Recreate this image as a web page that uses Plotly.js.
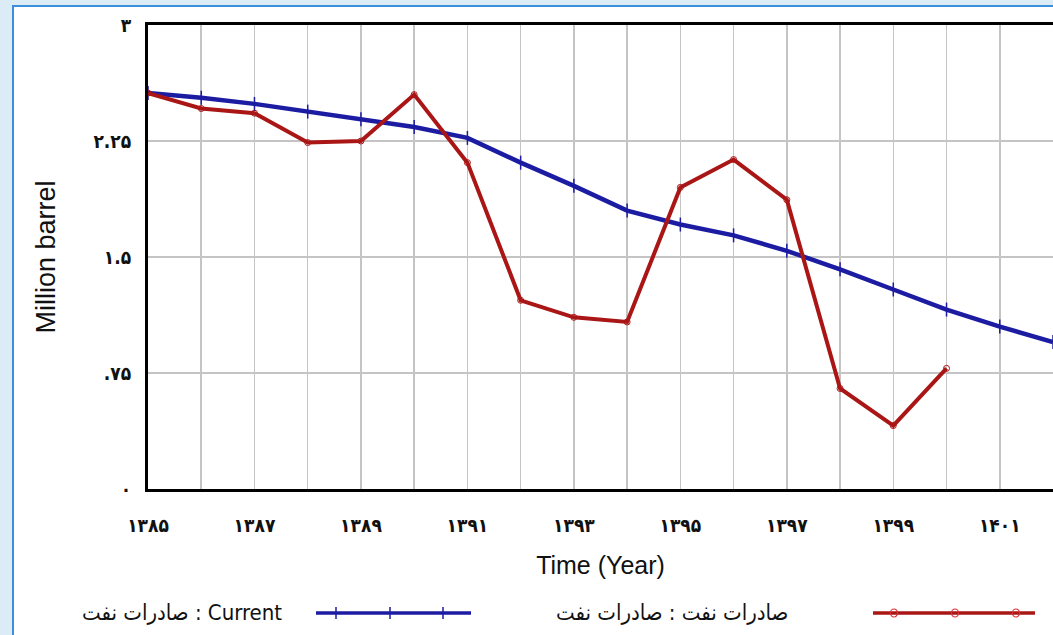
<!DOCTYPE html>
<html>
<head>
<meta charset="utf-8">
<script src="https://cdn.plot.ly/plotly-3.0.1.min.js"></script>
<style>
html,body{margin:0;padding:0;background:#dcecf6;}
#chart{width:1053px;height:635px;}
</style>
</head>
<body>
<div id="chart"></div>
<script>
// ---- data ----
const years = [1385,1386,1387,1388,1389,1390,1391,1392,1393,1394,1395,1396,1397,1398,1399,1400,1401,1402];
const currentValues = [2.56,2.53,2.49,2.44,2.39,2.34,2.27,2.11,1.96,1.80,1.71,1.64,1.54,1.42,1.29,1.16,1.05,0.95];
const exportYears = [1385,1386,1387,1388,1389,1390,1391,1392,1393,1394,1395,1396,1397,1398,1399,1400];
const exportValues = [2.56,2.46,2.43,2.24,2.25,2.55,2.11,1.22,1.11,1.08,1.95,2.13,1.87,0.65,0.41,0.78];
const xTickLabels = ['۱۳۸۵','','۱۳۸۷','','۱۳۸۹','','۱۳۹۱','','۱۳۹۳','','۱۳۹۵','','۱۳۹۷','','۱۳۹۹','','۱۴۰۱',''];
const yTickVals = [0,0.75,1.5,2.25,3];
const yTickLabels = ['۰','.۷۵','۱.۵','۲.۲۵','۳'];
const seriesNames = ['صادرات نفت : Current','صادرات نفت : صادرات نفت'];

const blue = '#1c1ca2';
const red = '#aa1616';

const traces = [
  {
    x: years, y: currentValues, type: 'scatter', mode: 'lines+markers',
    name: seriesNames[0],
    line: {color: blue, width: 4.5},
    marker: {symbol: 'line-ns', size: 10, line: {color: blue, width: 1.5}, color: blue},
    hoverinfo: 'skip'
  },
  {
    x: exportYears, y: exportValues, type: 'scatter', mode: 'lines+markers',
    name: seriesNames[1],
    line: {color: red, width: 4},
    marker: {symbol: 'circle-open', size: 6, line: {color: '#d83030', width: 1}, color: red},
    hoverinfo: 'skip'
  }
];

// paper coordinate helpers for the decorative frame / legend
const L = 148, T = 25, W = 905, H = 464;
const px = v => (v - L) / W;
const py = v => (T + H - v) / H;

const shapes = [
  {type:'rect', xref:'paper', yref:'paper', x0:px(13), x1:px(1060), y0:py(660), y1:py(6),
   fillcolor:'#ffffff', line:{color:'#3b8fdc', width:2}, layer:'below'},
  // legend samples
  {type:'line', xref:'paper', yref:'paper', x0:px(316), x1:px(471), y0:py(613), y1:py(613), line:{color:blue, width:3.5}},
  {type:'line', xref:'paper', yref:'paper', x0:px(873), x1:px(1035), y0:py(613), y1:py(613), line:{color:red, width:3.5}}
];
[336,390,443].forEach(x => shapes.push({type:'line', xref:'paper', yref:'paper', x0:px(x), x1:px(x), y0:py(607), y1:py(619), line:{color:blue, width:1.5}}));
[894,955,1016].forEach(x => shapes.push({type:'circle', xref:'paper', yref:'paper', x0:px(x-3.5), x1:px(x+3.5), y0:py(617), y1:py(609), line:{color:'#d83030', width:1.2}}));

const annotations = [
  {xref:'paper', yref:'paper', x:px(284), y:py(612), xanchor:'right', yanchor:'middle', showarrow:false,
   text: seriesNames[0], font:{family:'DejaVu Sans Condensed, DejaVu Sans', size:22, color:'#111'}},
  {xref:'paper', yref:'paper', x:px(790), y:py(612), xanchor:'right', yanchor:'middle', showarrow:false,
   text: seriesNames[1], font:{family:'DejaVu Sans Condensed, DejaVu Sans', size:22, color:'#111'}}
];

const layout = {
  width: 1053, height: 635,
  margin: {l: L, r: 0, t: T, b: 635 - T - H},
  paper_bgcolor: '#dcecf6',
  plot_bgcolor: '#ffffff',
  showlegend: false,
  xaxis: {
    range: [1385, 1402], tickvals: years, ticktext: xTickLabels,
    showgrid: true, gridcolor: '#c4c4c4', gridwidth: 1.5,
    ticks: 'outside', ticklen: 17, tickcolor: 'rgba(0,0,0,0)',
    showline: true, mirror: true, linecolor: '#000', linewidth: 3,
    zeroline: false, automargin: false,
    tickfont: {family: 'DejaVu Sans Condensed, DejaVu Sans', size: 19, weight: 'bold', color: '#111'},
    title: {text: 'Time (Year)', standoff: 22, font: {family: 'Liberation Sans, Arial', size: 25, color: '#111'}}
  },
  yaxis: {
    range: [0, 3], tickvals: yTickVals, ticktext: yTickLabels,
    showgrid: true, gridcolor: '#c4c4c4', gridwidth: 1.5,
    ticks: 'outside', ticklen: 10, tickcolor: 'rgba(0,0,0,0)',
    showline: true, mirror: true, linecolor: '#000', linewidth: 3,
    zeroline: false, automargin: false,
    tickfont: {family: 'DejaVu Sans Condensed, DejaVu Sans', size: 19, weight: 'bold', color: '#111'},
    title: {text: 'Million barrel', standoff: 30, font: {family: 'Liberation Sans, Arial', size: 27, color: '#111'}}
  },
  shapes: shapes,
  annotations: annotations
};

Plotly.newPlot('chart', traces, layout, {displayModeBar: false, staticPlot: true});
</script>
</body>
</html>
